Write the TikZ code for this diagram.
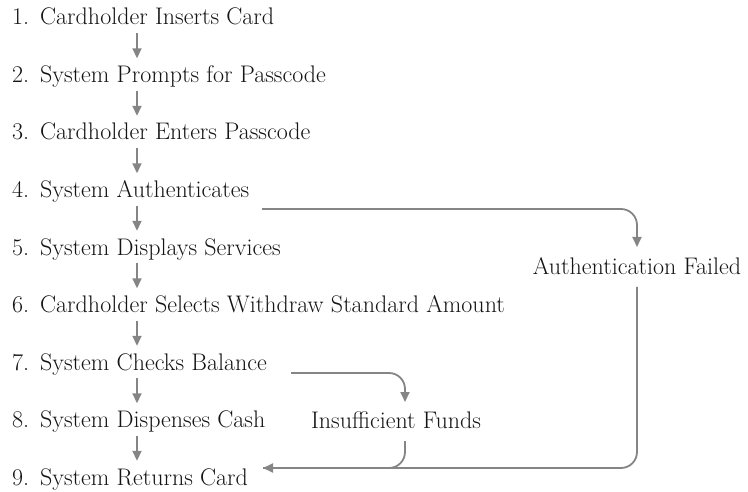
\documentclass[tikz,border=0pt]{standalone}
\usetikzlibrary{arrows.meta}
\definecolor{flowgray}{HTML}{858585}
\definecolor{ink}{HTML}{141414}
\begin{document}
\begin{tikzpicture}[x=1pt,y=-1pt,
  stepnode/.style={anchor=base west,inner xsep=0pt,inner ysep=3pt,
    text height=16pt,text depth=5pt,font=\fontsize{24}{28}\selectfont,text=ink},
  labelnode/.style={anchor=base,inner sep=0pt,font=\fontsize{24}{28}\selectfont,text=ink},
  flow/.style={draw=flowgray,line width=1.8pt,
    -{Triangle[length=10pt,width=9pt]}},
  link/.style={draw=flowgray,line width=1.8pt}]
\useasboundingbox (0,0) rectangle (748,492);
\newcommand{\stepno}[1]{\makebox[28pt][l]{#1}}

% the nine steps of the main sequence
\node[stepnode] (s1) at (12,25)    {\stepno{1.}Cardholder Inserts Card};
\node[stepnode] (s2) at (12,82.5)  {\stepno{2.}System Prompts for Passcode};
\node[stepnode] (s3) at (12,140)   {\stepno{3.}Cardholder Enters Passcode};
\node[stepnode] (s4) at (12,197.5) {\stepno{4.}System Authenticates};
\node[stepnode] (s5) at (12,255)   {\stepno{5.}System Displays Services};
\node[stepnode] (s6) at (12,312.5) {\stepno{6.}Cardholder Selects Withdraw Standard Amount};
\node[stepnode] (s7) at (12,370)   {\stepno{7.}System Checks Balance};
\node[stepnode] (s8) at (12,427.5) {\stepno{8.}System Dispenses Cash};
\node[stepnode] (s9) at (12,485)   {\stepno{9.}System Returns Card};

% alternative outcomes
\node[labelnode] (af) at (637,275) {Authentication Failed};
\node[labelnode] (nf) at (396,428) {Insufficient Funds};

% arrow column of the main sequence
\coordinate (col) at (137,0);
\foreach \a/\b in {s1/s2,s2/s3,s3/s4,s4/s5,s5/s6,s6/s7,s7/s8,s8/s9}
  \draw[flow,shorten >=5pt] (\a.south -| col) -- (\b.north -| col);

% branch points
\coordinate (authOut) at (262,209);
\coordinate (afIn)    at (637,247);
\coordinate (afOut)   at (637,287);
\coordinate (balOut)  at (291,373);
\coordinate (nfIn)    at (405,402);
\coordinate (nfOut)   at (405,441);
\coordinate (retIn)   at (263,468);

\draw[flow,rounded corners=16pt] (authOut) -| (afIn);
\draw[flow,rounded corners=16pt] (afOut) |- (retIn);
\draw[flow,rounded corners=16pt] (balOut) -| (nfIn);
\draw[link,rounded corners=16pt] (nfOut) |- (retIn);
\end{tikzpicture}
\end{document}
